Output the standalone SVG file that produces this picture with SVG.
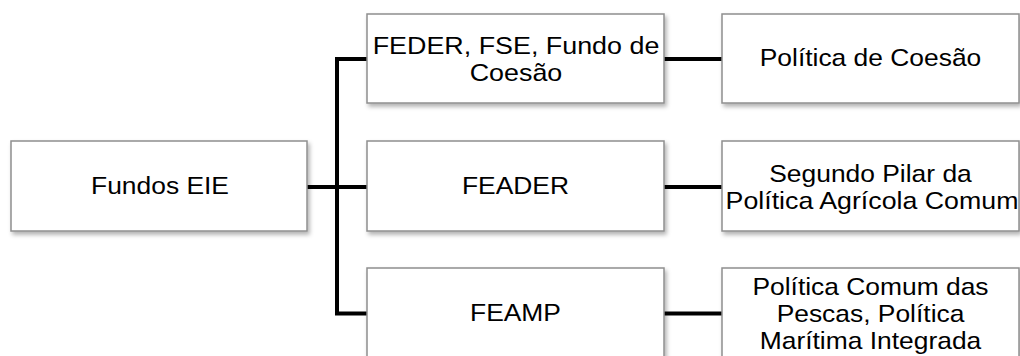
<svg xmlns="http://www.w3.org/2000/svg" width="1020" height="356" viewBox="0 0 1020 356">
<style>
.box{fill:#ffffff;stroke:#8f8f8f;stroke-width:1.5;filter:url(#sh)}
.lbl{font-family:"Liberation Sans",Arial,Helvetica,sans-serif;font-size:24px;fill:#000000;text-anchor:middle}
.con{fill:none;stroke:#000000;stroke-width:4;stroke-linejoin:miter;stroke-linecap:butt}
</style>
<defs>
<filter id="sh" x="-10%" y="-10%" width="125%" height="130%">
<feDropShadow dx="2" dy="3" stdDeviation="2" flood-color="#000000" flood-opacity="0.3"/>
</filter>
</defs>
<rect width="1020" height="356" fill="#ffffff"/>
<g id="connectors">
<path class="con" d="M367 59 H337 V313.5 H367"/>
<path class="con" d="M307 187 H367"/>
<path class="con" d="M664 59 H722"/>
<path class="con" d="M664 187 H722"/>
<path class="con" d="M664 313.5 H722"/>
</g>
<g id="fundos-eie">
<rect class="box" x="11" y="141" width="296" height="90"/>
<text class="lbl" transform="translate(160 193.5) scale(1.1 1)">Fundos EIE</text>
</g>
<g id="feder-fse">
<rect class="box" x="367" y="14" width="297" height="89"/>
<text class="lbl" transform="translate(516 53.5) scale(1.12 1)">FEDER, FSE, Fundo de</text>
<text class="lbl" transform="translate(516 80.8) scale(1.12 1)">Coesão</text>
</g>
<g id="politica-coesao">
<rect class="box" x="722" y="14" width="297" height="89"/>
<text class="lbl" transform="translate(870.5 66) scale(1.1 1)">Política de Coesão</text>
</g>
<g id="feader">
<rect class="box" x="367" y="141" width="297" height="90"/>
<text class="lbl" transform="translate(515.5 193.5) scale(1.1 1)">FEADER</text>
</g>
<g id="segundo-pilar">
<rect class="box" x="722" y="141" width="297" height="90"/>
<text class="lbl" transform="translate(870.5 182) scale(1.1 1)">Segundo Pilar da</text>
<text class="lbl" transform="translate(872 208.5) scale(1.115 1)">Política Agrícola Comum</text>
</g>
<g id="feamp">
<rect class="box" x="367" y="268" width="297" height="90"/>
<text class="lbl" transform="translate(515.5 321) scale(1.1 1)">FEAMP</text>
</g>
<g id="politica-pescas">
<rect class="box" x="722" y="268" width="297" height="90"/>
<text class="lbl" transform="translate(870.5 294.6) scale(1.1 1)">Política Comum das</text>
<text class="lbl" transform="translate(870.5 321.6) scale(1.1 1)">Pescas, Política</text>
<text class="lbl" transform="translate(870.5 348.6) scale(1.1 1)">Marítima Integrada</text>
</g>
</svg>
